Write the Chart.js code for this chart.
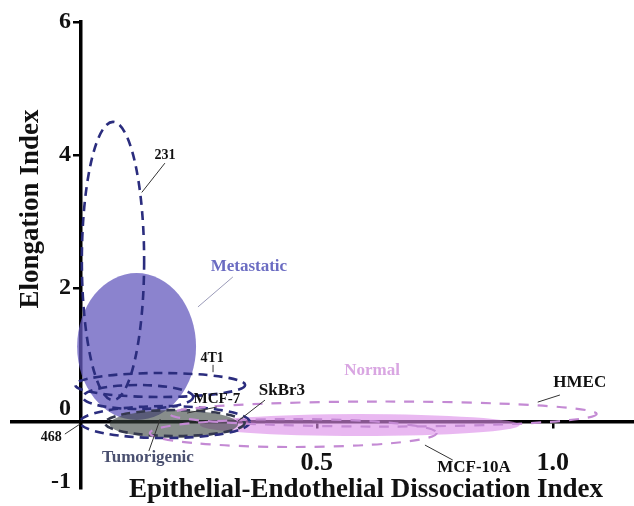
<!DOCTYPE html>
<html>
<head>
<meta charset="utf-8">
<script src="https://cdn.jsdelivr.net/npm/chart.js@4/dist/chart.umd.min.js"></script>
<style>
  html, body { margin: 0; padding: 0; background: #fff; }
  #wrap { width: 634px; height: 506px; position: relative; }
</style>
</head>
<body>
<div id="wrap"><canvas id="chart"></canvas></div>
<script>
// Phenotype groups (filled regions): centre and half-spread on each index
const groupNames = ['Metastatic', 'Normal', 'Tumorigenic'];
const groupX = [0.118, 0.591, 0.197];
const groupY = [1.125, -0.054, -0.04];
const groupXSpread = [0.126, 0.339, 0.136];
const groupYSpread = [1.104, 0.165, 0.21];

// Individual cell lines (dashed outlines)
const cellNames = ['231', '4T1', 'MCF-7', 'SkBr3', '468', 'HMEC', 'MCF-10A'];
const cellX = [0.068, 0.168, 0.121, 0.199, 0.178, 0.641, 0.450];
const cellY = [2.41, 0.547, 0.367, -0.024, -0.01, 0.111, -0.174];
const cellXSpread = [0.066, 0.180, 0.117, 0.148, 0.180, 0.452, 0.304];
const cellYSpread = [2.09, 0.18, 0.18, 0.195, 0.24, 0.188, 0.21];

// Axis ticks
const xTicks = [0.5, 1.0];
const yTicks = [6, 4, 2, 0, -1];

const SERIF = "'Times New Roman', 'Liberation Serif', 'DejaVu Serif', serif";

const groupFill = {
  'Metastatic': 'rgba(100, 90, 190, 0.75)',
  'Normal': 'rgba(220, 140, 232, 0.62)',
  'Tumorigenic': 'rgba(55, 65, 62, 0.6)'
};
const cellStroke = {
  '231': '#2b2d7e', '4T1': '#2b2d7e', 'MCF-7': '#2b2d7e',
  'SkBr3': '#34384e', '468': '#2b2d7e',
  'HMEC': '#c48ad4', 'MCF-10A': '#c48ad4'
};

// Text callouts: label position, optional leader line (data coordinates)
const callouts = [
  { text: '231', at: [0.178, 4.00], size: 14, color: '#111', line: [[0.178, 3.88], [0.129, 3.44]] },
  { text: 'Metastatic', at: [0.356, 2.32], size: 17, color: '#6b6cc2', line: [[0.322, 2.17], [0.248, 1.72]], lineColor: '#9a9ab8' },
  { text: '4T1', at: [0.278, 0.94], size: 14, color: '#111', line: [[0.280, 0.85], [0.280, 0.74]] },
  { text: 'MCF-7', at: [0.288, 0.34], size: 15, color: '#111', line: [[0.288, 0.216], [0.225, 0.126]] },
  { text: 'SkBr3', at: [0.426, 0.457], size: 17, color: '#111', line: [[0.390, 0.32], [0.333, 0.006]] },
  { text: '468', at: [-0.063, -0.234], size: 14, color: '#111', line: [[-0.034, -0.19], [-0.002, -0.04]] },
  { text: 'Tumorigenic', at: [0.142, -0.55], size: 17, color: '#4a5070', line: [[0.144, -0.445], [0.168, 0.036]] },
  { text: 'Normal', at: [0.617, 0.77], size: 17, color: '#d9a6e2' },
  { text: 'HMEC', at: [1.057, 0.577], size: 17, color: '#111', line: [[0.968, 0.29], [1.015, 0.397]] },
  { text: 'MCF-10A', at: [0.833, -0.70], size: 17, color: '#111', line: [[0.729, -0.355], [0.788, -0.58]] }
];

function ellipsePath(chart, cx, cy, sx, sy) {
  const { x, y } = chart.scales;
  const px = x.getPixelForValue(cx), py = y.getPixelForValue(cy);
  const rx = Math.abs(x.getPixelForValue(cx + sx) - px);
  const ry = Math.abs(y.getPixelForValue(cy + sy) - py);
  const ctx = chart.ctx;
  ctx.beginPath();
  ctx.ellipse(px, py, rx, ry, 0, 0, Math.PI * 2);
}

const regionsPlugin = {
  id: 'regions',
  beforeDatasetsDraw(chart) {
    const ctx = chart.ctx;
    ctx.save();
    // translucent group regions
    groupNames.forEach((name, i) => {
      ellipsePath(chart, groupX[i], groupY[i], groupXSpread[i], groupYSpread[i]);
      ctx.fillStyle = groupFill[name];
      ctx.fill();
    });
    // dashed outlines of the cell lines
    cellNames.forEach((name, i) => {
      ellipsePath(chart, cellX[i], cellY[i], cellXSpread[i], cellYSpread[i]);
      const pink = name === 'HMEC' || name === 'MCF-10A';
      ctx.strokeStyle = cellStroke[name];
      ctx.lineWidth = pink ? 2.2 : 2.6;
      ctx.setLineDash(pink ? [10, 9] : [9, 6]);
      ctx.stroke();
    });
    ctx.restore();
  },
  afterDraw(chart) {
    const { ctx, scales: { x, y } } = chart;
    ctx.save();
    // callouts and leader lines
    callouts.forEach(c => {
      if (c.line) {
        ctx.beginPath();
        ctx.moveTo(x.getPixelForValue(c.line[0][0]), y.getPixelForValue(c.line[0][1]));
        ctx.lineTo(x.getPixelForValue(c.line[1][0]), y.getPixelForValue(c.line[1][1]));
        ctx.strokeStyle = c.lineColor || '#333';
        ctx.lineWidth = 1;
        ctx.stroke();
      }
      ctx.font = `bold ${c.size}px ${SERIF}`;
      ctx.fillStyle = c.color;
      ctx.textAlign = 'center';
      ctx.textBaseline = 'middle';
      ctx.fillText(c.text, x.getPixelForValue(c.at[0]), y.getPixelForValue(c.at[1]));
    });
    // axis titles
    ctx.fillStyle = '#111';
    ctx.font = `bold 27px ${SERIF}`;
    ctx.textAlign = 'center';
    ctx.textBaseline = 'alphabetic';
    ctx.fillText('Epithelial-Endothelial Dissociation Index', 366, 497);
    ctx.translate(38, 209);
    ctx.rotate(-Math.PI / 2);
    ctx.fillText('Elongation Index', 0, 0);
    ctx.restore();
  }
};

// gap kept between the y tick labels and the axis line
const Y_LABEL_GAP = '\u2005\u2006';

new Chart(document.getElementById('chart'), {
  type: 'scatter',
  data: {
    datasets: [{
      label: 'Groups',
      data: groupNames.map((n, i) => ({ x: groupX[i], y: groupY[i] })),
      pointRadius: 0,
      pointHoverRadius: 0
    }]
  },
  options: {
    responsive: true,
    maintainAspectRatio: false,
    animation: false,
    events: [],
    layout: { padding: { left: 12, right: 0, top: 22, bottom: 18 } },
    plugins: { legend: { display: false }, tooltip: { enabled: false }, title: { display: false } },
    scales: {
      x: {
        type: 'linear',
        min: -0.146,
        max: 1.172,
        position: { y: 0 },
        z: 1,
        afterFit: s => { s.height = 0; },
        afterBuildTicks: s => { s.ticks = xTicks.map(v => ({ value: v })); },
        border: { display: true, color: '#000', width: 3.5 },
        grid: { drawOnChartArea: false, drawTicks: true, tickLength: 5, color: '#000', lineWidth: 2.5 },
        ticks: {
          padding: 21,
          color: '#111',
          autoSkip: false,
          maxRotation: 0,
          font: { family: SERIF, size: 26, weight: 'bold' },
          callback: v => v.toFixed(1)
        }
      },
      y: {
        type: 'linear',
        min: -1,
        max: 6,
        position: { x: 0 },
        z: 1,
        afterFit: s => { s.width = 0; },
        afterBuildTicks: s => { s.ticks = yTicks.map(v => ({ value: v })); },
        border: { display: true, color: '#000', width: 3.5 },
        grid: {
          drawOnChartArea: false, drawTicks: true, tickLength: 6, lineWidth: 2.5,
          color: c => (c.tick && c.tick.value === -1) ? 'rgba(0,0,0,0)' : '#000'
        },
        ticks: {
          padding: 3,
          color: '#111',
          autoSkip: false,
          font: c => ({
            family: SERIF, size: 24, weight: 'bold',
            lineHeight: (c.tick && c.tick.value === 0) ? '25px' : ((c.tick && c.tick.value === -1) ? '13px' : 1.2)
          }),
          callback: v => (v === 0 || v === -1) ? [String(v) + Y_LABEL_GAP, ''] : String(v) + Y_LABEL_GAP
        }
      }
    }
  },
  plugins: [regionsPlugin]
});
</script>
</body>
</html>
